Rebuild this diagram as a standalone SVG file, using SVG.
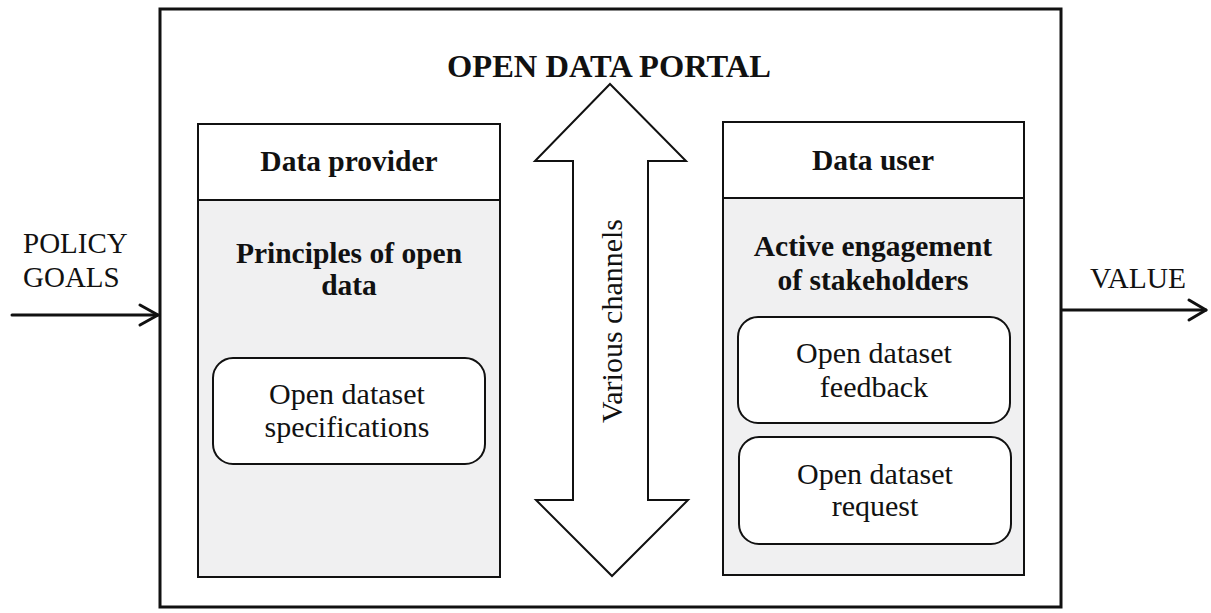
<svg xmlns="http://www.w3.org/2000/svg" width="1211" height="613" viewBox="0 0 1211 613">
  <defs>
    <style>
      .bold { font-family: "Liberation Serif", "Times New Roman", serif; font-weight: bold; fill: #111; font-size: 29.5px; }
      .reg { font-family: "Liberation Serif", "Times New Roman", serif; fill: #111; font-size: 30px; }
      .frame { fill: none; stroke: #111; stroke-width: 3; }
      .panel { fill: #f0f0f1; stroke: #111; stroke-width: 2; }
      .header { fill: #ffffff; stroke: #111; stroke-width: 2; }
      .item { fill: #ffffff; stroke: #111; stroke-width: 2; }
      .flow { fill: none; stroke: #111; stroke-width: 3; stroke-linecap: round; stroke-linejoin: round; }
    </style>
  </defs>
  <rect width="1211" height="613" fill="#ffffff"/>

  <!-- portal frame -->
  <g id="portal">
    <rect class="frame" x="160" y="9" width="901" height="598"/>
    <text class="bold" x="609" y="77" style="font-size:32.5px" text-anchor="middle">OPEN DATA PORTAL</text>
  </g>

  <!-- provider side -->
  <g id="data-provider">
    <rect class="panel" x="198" y="124" width="302" height="453"/>
    <rect class="header" x="198" y="124" width="302" height="76"/>
    <text class="bold" x="349" y="171" text-anchor="middle">Data provider</text>
    <text class="bold" x="349" y="263" text-anchor="middle">Principles of open</text>
    <text class="bold" x="349" y="295" text-anchor="middle">data</text>
  </g>
  <g id="dataset-specifications">
    <rect class="item" x="213" y="358" width="272" height="106" rx="20" ry="20"/>
    <text class="reg" x="347" y="404" text-anchor="middle">Open dataset</text>
    <text class="reg" x="347" y="437" text-anchor="middle">specifications</text>
  </g>

  <!-- user side -->
  <g id="data-user">
    <rect class="panel" x="723" y="122" width="301" height="453"/>
    <rect class="header" x="723" y="122" width="301" height="76"/>
    <text class="bold" x="873" y="170" text-anchor="middle">Data user</text>
    <text class="bold" x="873" y="256" text-anchor="middle">Active engagement</text>
    <text class="bold" x="873" y="290" text-anchor="middle">of stakeholders</text>
  </g>
  <g id="dataset-feedback">
    <rect class="item" x="738" y="317" width="272" height="106" rx="20" ry="20"/>
    <text class="reg" x="874" y="363" text-anchor="middle">Open dataset</text>
    <text class="reg" x="874" y="397" text-anchor="middle">feedback</text>
  </g>
  <g id="dataset-request">
    <rect class="item" x="739" y="437" width="272" height="107" rx="20" ry="20"/>
    <text class="reg" x="875" y="484" text-anchor="middle">Open dataset</text>
    <text class="reg" x="875" y="516" text-anchor="middle">request</text>
  </g>

  <!-- two-way channel between provider and user -->
  <g id="channels">
    <polygon points="610,84 686,161 648,161 648,500 688,500 612,576 536,500 573,500 573,161 535,161"
             fill="#ffffff" stroke="#111" stroke-width="2" stroke-linejoin="miter"/>
    <text class="reg" text-anchor="middle" transform="translate(622,321) rotate(-90)">Various channels</text>
  </g>

  <!-- inputs and outputs -->
  <g id="policy-goals">
    <text class="reg" x="23" y="253" style="font-size:29px">POLICY</text>
    <text class="reg" x="23" y="287" style="font-size:29px">GOALS</text>
  </g>
  <g id="value">
    <text class="reg" x="1138" y="288" style="font-size:29.5px" text-anchor="middle">VALUE</text>
  </g>
  <g id="connectors">
    <line class="flow" x1="12" y1="315" x2="158" y2="315"/>
    <polyline class="flow" points="140,305 158,315 140,325"/>
    <line class="flow" x1="1062" y1="310" x2="1206" y2="310"/>
    <polyline class="flow" points="1189,300 1206,310 1189,320"/>
  </g>
</svg>
